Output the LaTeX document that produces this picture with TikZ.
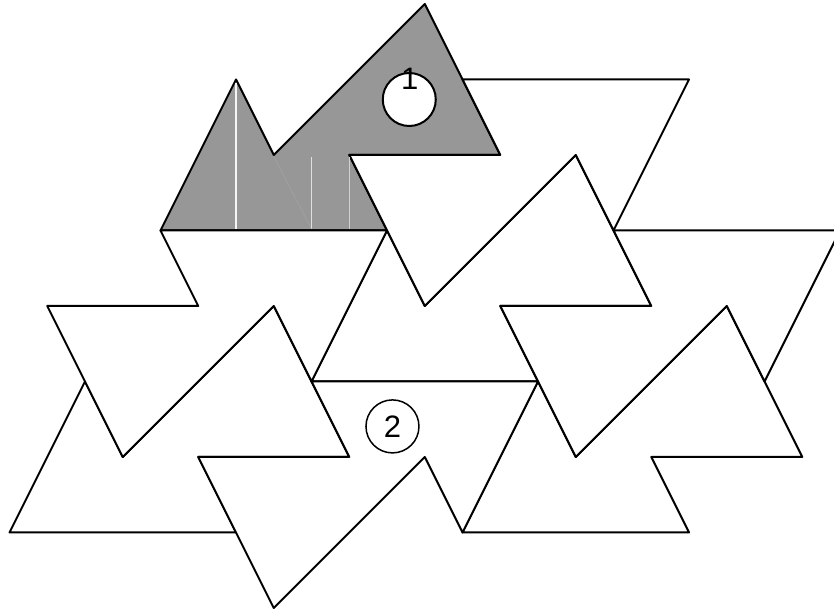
\documentclass[tikz,border=0pt]{standalone}
\usepackage{fontspec}
\setmainfont{Liberation Sans}
\newcommand{\tileshape}{(0,0)--(2,2)--(3,1)--(7,3)--(9,1)--(5,1)--(6,0)--cycle}
\tikzset{
  tileline/.style={draw=black,line width=2pt,line join=round},
  whitetile/.style={tileline,fill=white},
  graytile/.style={tileline,fill=tilegray},
  seam/.style={draw=white,line width=#1},
  badge/.style={circle,draw=black,fill=white,line width=2pt,minimum size=53pt,inner sep=0pt},
  digit/.style={inner sep=0pt,font=\fontsize{31}{31}\selectfont}
}
\definecolor{tilegray}{HTML}{979797}
\begin{document}
\begin{tikzpicture}[x=37.75pt,y=75.5pt]
\useasboundingbox[clip] (-0.25165,-1.01325) rectangle (21.84106,7.05298);
% upright tiles
\path[graytile,shift={(4,4)}] \tileshape;
\path[whitetile,shift={(12,0)}] \tileshape;
\path[whitetile,shift={(0,0)}] \tileshape;
\path[whitetile,shift={(8,2)}] \tileshape;
% inverted tiles
\path[whitetile,shift={(10,4)},scale=-1] \tileshape;
\path[whitetile,shift={(14,2)},scale=-1] \tileshape;
\path[whitetile,shift={(18,6)},scale=-1] \tileshape;
\path[whitetile,shift={(22,4)},scale=-1] \tileshape;
% hairline seams inside the grey tile
\draw[seam=1.2pt,white!90!tilegray] (6,4.02) -- (6,5.96);
\draw[seam=1.1pt,white!70!tilegray] (8,4.02) -- (8,4.98);
\draw[seam=0.8pt,white!55!tilegray] (9,4.02) -- (9,4.98);
\draw[seam=0.4pt,white!15!tilegray] (7,4.98) -- (8,4.02);
% badges
\node[badge] (c1) at (10.59,5.735) {};
\node[digit] (t1) at (10.6,6.013) {1};
\node[badge,line width=1.5pt] (c2) at (10.145,1.405) {};
\node[digit] (t2) at (10.145,1.4) {2};
\end{tikzpicture}
\end{document}
